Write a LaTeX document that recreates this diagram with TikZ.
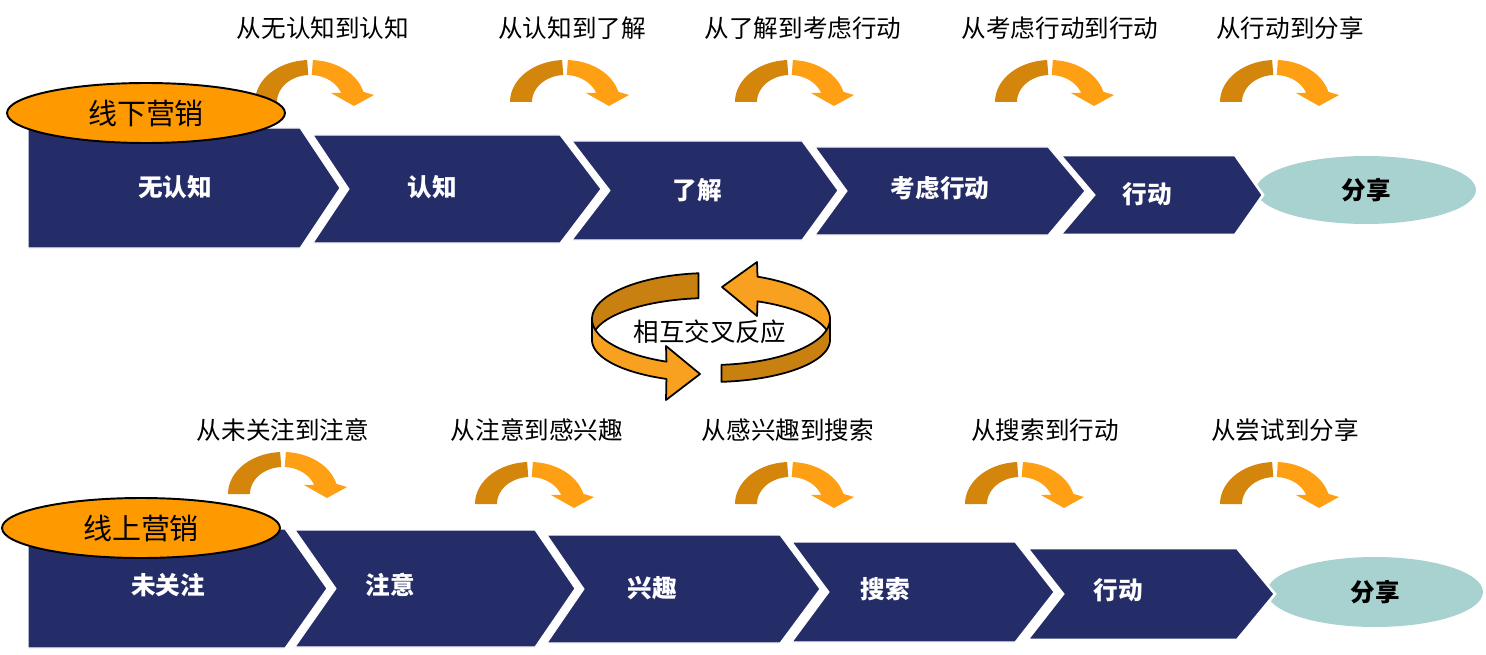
\documentclass[tikz,border=0pt]{standalone}
\usepackage{fontspec}
\newfontfamily\cjk{Noto Sans CJK SC}
\usepackage{tikz}
\usetikzlibrary{shapes.geometric}
\definecolor{navy}{RGB}{37,45,105}
\definecolor{amber}{RGB}{255,153,0}
\definecolor{arcdark}{RGB}{212,133,12}
\definecolor{arclight}{RGB}{255,160,20}
\definecolor{ringdark}{RGB}{200,128,16}
\definecolor{ringlight}{RGB}{248,160,32}
\definecolor{teal}{RGB}{168,210,208}
\tikzset{
  chev/.style={
    fill=navy,
    draw=white,
    line width=0.6pt
  },
  chevtext/.style={
    text=white,
    font=\cjk\bfseries\fontsize{14pt}{16pt}\selectfont
  },
  movelabel/.style={
    font=\cjk\fontsize{14pt}{16pt}\selectfont
  },
  market/.style={
    shape=ellipse,
    draw=black,
    line width=1.1pt,
    fill=amber,
    inner sep=0pt,
    minimum width=5.56cm,
    minimum height=1.2cm,
    font=\cjk\fontsize{16.5pt}{18pt}\selectfont
  },
  share/.style={
    shape=ellipse,
    fill=teal,
    inner sep=0pt,
    font=\cjk\bfseries\fontsize{14pt}{16pt}\selectfont
  },
  ring/.style={
    draw=black,
    line width=1pt,
    line join=round
  }
}
\tikzset{
  turnarrow/.pic={
    % shaded rising half
    \fill[arcdark] plot[domain=180:93,samples=25] ({55*cos(\x)},{-42*sin(\x)})
      -- plot[domain=93:180,samples=25] ({33*cos(\x)},{-27*sin(\x)}) -- cycle;
    % falling half with the head
    \fill[arclight] plot[domain=87:14,samples=25] ({55*cos(\x)},{-42*sin(\x)})
      -- (64,-7) -- (44,4) -- (21,-9)
      -- plot[domain=20:87,samples=25] ({33*cos(\x)},{-27*sin(\x)}) -- cycle;
  }
}
\begin{document}
\begin{tikzpicture}[x=0.02cm, y=-0.02cm]
\useasboundingbox (0,0) rectangle (1486,655);

% offline row
\node[share, minimum width=4.4cm, minimum height=1.36cm] (shareA) at (1366,190) {分享};
\path[chev] (28,128) -- (300,128) -- (340,188) -- (300,248) -- (28,248) -- cycle;
\path[chev] (313,135) -- (560,135) -- (601,189) -- (560,243) -- (313,243) -- (349,189) -- cycle;
\path[chev] (572,141) -- (802,141) -- (838,190.5) -- (802,240) -- (572,240) -- (610,190.5) -- cycle;
\path[chev] (815,147) -- (1048,147) -- (1085,191) -- (1048,235) -- (815,235) -- (847,191) -- cycle;
\path[chev, line width=1.5pt] (1060,155) -- (1235,155) -- (1263,195) -- (1235,235) -- (1060,235) -- (1094,195) -- cycle;
\node[chevtext] (offA) at (175,187) {无认知};
\node[chevtext] (offB) at (432,187) {认知};
\node[chevtext] (offC) at (697,190) {了解};
\node[chevtext] (offD) at (940,188) {考虑行动};
\node[chevtext] (offE) at (1147,194) {行动};

\pic at (310,102) {turnarrow};
\pic at (565,102) {turnarrow};
\pic at (790,102) {turnarrow};
\pic at (1050,102) {turnarrow};
\pic at (1275,102) {turnarrow};
\node[movelabel] (moveA) at (323,28) {从无认知到认知};
\node[movelabel] (moveB) at (572,28) {从认知到了解};
\node[movelabel] (moveC) at (803,28) {从了解到考虑行动};
\node[movelabel] (moveD) at (1060,28) {从考虑行动到行动};
\node[movelabel] (moveE) at (1290,28) {从行动到分享};
\node[market] (offline) at (146,113) {线下营销};

% online row
\node[share, minimum width=4.32cm, minimum height=1.4cm] (shareB) at (1375,592) {分享};
\path[chev] (28,529) -- (285,529) -- (327,588.5) -- (285,648) -- (28,648) -- cycle;
\path[chev] (295,530) -- (535,530) -- (575,588.5) -- (535,647) -- (295,647) -- (336,588.5) -- cycle;
\path[chev] (547,535) -- (780,535) -- (820,589) -- (780,643) -- (547,643) -- (584,589) -- cycle;
\path[chev] (792,542) -- (1015,542) -- (1054,592) -- (1015,642) -- (792,642) -- (829,592) -- cycle;
\path[chev, line width=1.5pt] (1027,548) -- (1237,548) -- (1275,594) -- (1237,640) -- (1027,640) -- (1063,594) -- cycle;
\node[chevtext] (onA) at (168,585) {未关注};
\node[chevtext] (onB) at (390,585) {注意};
\node[chevtext] (onC) at (652,588) {兴趣};
\node[chevtext] (onD) at (885,589) {搜索};
\node[chevtext] (onE) at (1118,590) {行动};

\pic at (283,494) {turnarrow};
\pic at (530,504) {turnarrow};
\pic at (790,504) {turnarrow};
\pic at (1020,504) {turnarrow};
\pic at (1275,504) {turnarrow};
\node[movelabel] (moveF) at (283,430) {从未关注到注意};
\node[movelabel] (moveG) at (537,430) {从注意到感兴趣};
\node[movelabel] (moveH) at (788,430) {从感兴趣到搜索};
\node[movelabel] (moveI) at (1045,430) {从搜索到行动};
\node[movelabel] (moveJ) at (1285,430) {从尝试到分享};
\node[market] (online) at (141,528) {线上营销};

% loop in the middle
\path[ring, fill=ringdark] plot[domain=264:180,samples=30] ({711+119*cos(\x)},{319+46*sin(\x)})
  -- plot[domain=180:264,samples=30] ({711+119*cos(\x)},{340+42*sin(\x)}) -- cycle;
\path[ring, fill=ringlight] plot[domain=360:293,samples=30] ({711+119*cos(\x)},{319+46*sin(\x)})
  -- (757,262) -- (722,287) -- (757,316)
  -- plot[domain=293:360,samples=30] ({711+119*cos(\x)},{340+42*sin(\x)}) -- cycle;
\path[ring, fill=ringlight] plot[domain=180:112,samples=30] ({711+119*cos(\x)},{319+46*sin(\x)})
  -- (666,346) -- (700,374) -- (666,400)
  -- plot[domain=112:180,samples=30] ({711+119*cos(\x)},{340+42*sin(\x)}) -- cycle;
\path[ring, fill=ringdark] plot[domain=85:0,samples=30] ({711+119*cos(\x)},{319+46*sin(\x)})
  -- plot[domain=0:85,samples=30] ({711+119*cos(\x)},{340+42*sin(\x)}) -- cycle;
\node[movelabel, font=\cjk\fontsize{14.5pt}{16pt}\selectfont] (cross) at (710,332) {相互交叉反应};
\end{tikzpicture}
\end{document}
